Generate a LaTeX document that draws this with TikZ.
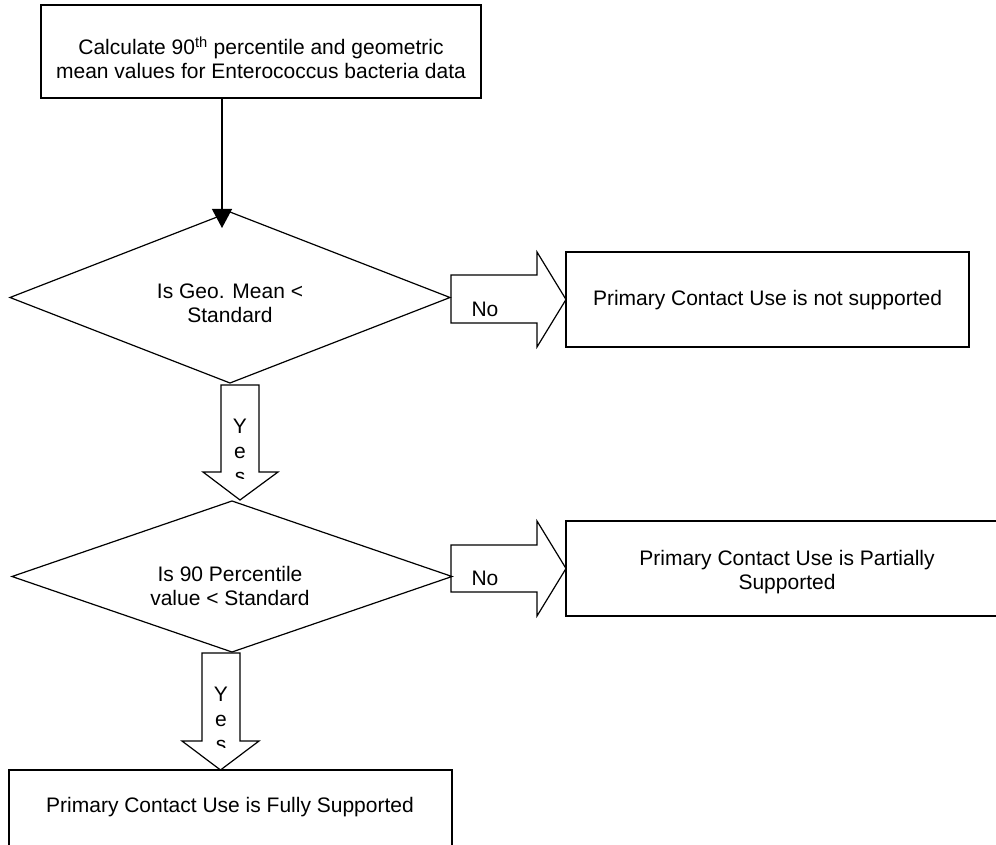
\documentclass[tikz,border=0pt]{standalone}
\usepackage{fontspec}
\setmainfont{Liberation Sans}
\usetikzlibrary{arrows.meta,shapes.geometric}
\begin{document}
\begin{tikzpicture}[x=1pt,y=-1pt,line width=1.2pt,
  every node/.style={font=\fontsize{21}{24}\selectfont, inner sep=0pt, outer sep=0pt},
  boxshape/.style={draw, rectangle, line width=1.2pt},
  decision/.style={draw, diamond, line width=1.2pt},
  txt/.style={align=center},
  blockarrow/.style={draw, line width=1.2pt, line join=miter},
  conn/.style={-{Triangle[length=19pt,width=20pt]}, line width=1.2pt}]
\useasboundingbox (0,0) rectangle (996,845);

% boxes
\node[boxshape, minimum width=440pt, minimum height=93pt] (top) at (261,51.5) {};
\node[txt] (toptxt) at (261,58) {Calculate 90\textsuperscript{th} percentile and geometric\\mean values for Enterococcus bacteria data};

\node[boxshape, minimum width=403pt, minimum height=95pt] (notsup) at (767.5,299.5) {};
\node[txt] (notsuptxt) at (767.5,300) {Primary Contact Use is not supported};

\node[boxshape, minimum width=450pt, minimum height=95pt] (partsup) at (791,568.5) {};
\node[txt] (partsuptxt) at (787,572) {Primary Contact Use is Partially\\Supported};

\node[boxshape, minimum width=443pt, minimum height=100pt] (fullsup) at (230.5,820) {};
\node[txt] (fullsuptxt) at (230,807.5) {Primary Contact Use is Fully Supported};

% decisions
\node[decision, minimum width=440pt, minimum height=171pt] (d1) at (230,297.5) {};
\node[txt] (d1txt) at (230,303) {Is Geo. Mean <\\Standard};

\node[decision, minimum width=440pt, minimum height=151pt] (d2) at (232,576.5) {};
\node[txt] (d2txt) at (230,586) {Is 90 Percentile\\value < Standard};

% connector top -> d1
\coordinate (tip1) at (222,228);
\draw[conn] (top.south -| tip1) -- (tip1);

% right block arrows
\draw[blockarrow] (451,275) -- (537,275) -- (537,252) -- (566,299.5) -- (537,347) -- (537,323) -- (451,323) -- cycle;
\node[anchor=base] (no1) at (485,316) {No};

\draw[blockarrow] (451,545) -- (537,545) -- (537,521) -- (566,568.5) -- (537,616) -- (537,592) -- (451,592) -- cycle;
\node[anchor=base] (no2) at (485,585) {No};

% down block arrows
\draw[blockarrow] (221,385) -- (259,385) -- (259,472) -- (278,472) -- (240,500) -- (203,472) -- (221,472) -- cycle;
\begin{scope}
  \clip (215,390) rectangle (265,478);
  \node[anchor=base] (yes1a) at (240,433) {Y};
  \node[anchor=base] (yes1b) at (240,458) {e};
  \node[anchor=base] (yes1c) at (240,483) {s};
\end{scope}

\draw[blockarrow] (202,653) -- (240,653) -- (240,741) -- (259,741) -- (220.5,770) -- (182,741) -- (202,741) -- cycle;
\begin{scope}
  \clip (196,658) rectangle (246,747);
  \node[anchor=base] (yes2a) at (221,701) {Y};
  \node[anchor=base] (yes2b) at (221,726) {e};
  \node[anchor=base] (yes2c) at (221,751) {s};
\end{scope}
\end{tikzpicture}
\end{document}
